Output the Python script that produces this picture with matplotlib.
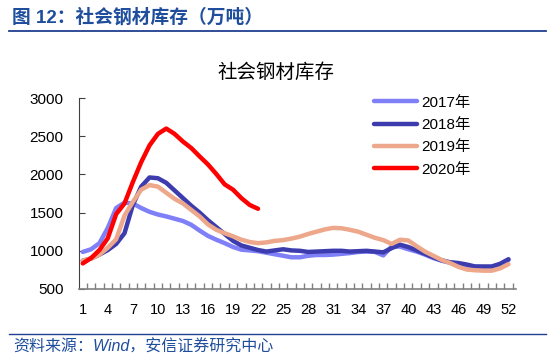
import matplotlib
matplotlib.use("Agg")
import matplotlib.pyplot as plt
from matplotlib.lines import Line2D

plt.rcParams['font.family'] = ['Liberation Sans', 'Noto Sans CJK SC', 'DejaVu Sans']

weeks = list(range(1, 53))
y2017 = [985, 1020, 1100, 1300, 1560, 1630, 1620, 1560, 1510, 1475, 1450, 1420, 1390, 1340, 1265, 1195,
         1145, 1100, 1050, 1015, 1005, 995, 975, 955, 935, 915, 915, 935, 945, 945, 950, 960, 970, 985,
         990, 985, 940, 1055, 1055, 1020, 990, 950, 905, 870, 845, 830, 810, 790, 785, 785, 820, 880]
y2018 = [870, 900, 950, 1010, 1090, 1230, 1600, 1840, 1960, 1950, 1890, 1790, 1690, 1590, 1500, 1400,
         1310, 1220, 1130, 1070, 1040, 1010, 990, 1005, 1020, 1005, 1000, 985, 990, 995, 1000, 1000, 990,
         995, 1000, 990, 980, 1035, 1080, 1050, 1005, 960, 915, 875, 850, 840, 820, 795, 795, 795, 830, 890]
y2019 = [870, 900, 950, 1040, 1150, 1460, 1640, 1800, 1860, 1840, 1760, 1680, 1620, 1535, 1450, 1345,
         1275, 1230, 1190, 1145, 1115, 1100, 1110, 1130, 1140, 1160, 1185, 1220, 1250, 1280, 1300, 1295,
         1275, 1250, 1210, 1170, 1140, 1090, 1145, 1135, 1060, 990, 935, 880, 840, 790, 755, 745, 740,
         740, 770, 825]
y2020 = [835, 905, 1010, 1165, 1480, 1620, 1900, 2160, 2380, 2530, 2600, 2530, 2430, 2345, 2235, 2130,
         2005, 1870, 1800, 1690, 1600, 1550]

series = [("2017年", y2017, "#7f7ff7"), ("2018年", y2018, "#3c3cae"),
          ("2019年", y2019, "#eda78a"), ("2020年", y2020, "#ff0000")]

xtick_vals = list(range(1, 53, 3))
ytick_vals = [500, 1000, 1500, 2000, 2500, 3000]

fig = plt.figure(figsize=(5.48, 3.62), dpi=100)
ax = fig.add_axes([79/548, 1-289/362, (516-79)/548, (289-98)/362])

handles = []
for name, vals, col in series:
    ln, = ax.plot(weeks[:len(vals)], vals, color=col, lw=3.2, solid_capstyle='round',
                  solid_joinstyle='round', label=name)
    handles.append(ln)

ax.set_xlim(0.55, 52.9)
ax.set_ylim(500, 3000)
ax.set_xticks(xtick_vals)
ax.set_xticks([w + 0.5 for w in weeks], minor=True)
ax.set_yticks(ytick_vals)
ax.tick_params(axis='x', which='major', length=0, pad=10, labelsize=10.5, colors='black')
ax.tick_params(axis='x', which='minor', length=4, direction='in', color='#808080', width=1)
ax.tick_params(axis='y', length=4, direction='in', pad=11, labelsize=11, color='#404040')
for s in ['top', 'right']:
    ax.spines[s].set_visible(False)
ax.spines['left'].set_color('#404040')
ax.spines['bottom'].set_color('#808080')
ax.spines['bottom'].set_linewidth(1.2)

leg = ax.legend(handles=handles, loc='upper left', bbox_to_anchor=((368-79)/437, 1.045),
                frameon=False, fontsize=11, handlelength=2.8, handletextpad=0.3,
                labelspacing=0.55, borderaxespad=0)

fig.text(276/548, 1-73/362, "社会钢材库存", ha='center', va='center', fontsize=14, color='black')

fig.text(12/548, 1-17/362, "图 12：社会钢材库存（万吨）", ha='left', va='center', fontsize=13.5,
         fontweight='bold', color='#1f4e9c')
fig.add_artist(Line2D([9/548, 546/548], [1-31/362, 1-31/362], color='#1f3f8f', lw=1.3,
                      transform=fig.transFigure))
fig.add_artist(Line2D([9/548, 546/548], [1-334/362, 1-334/362], color='#1f3f8f', lw=1.0,
                      transform=fig.transFigure))
fig.text(13/548, 1-347/362, "资料来源：Wind，安信证券研究中心", ha='left', va='center', fontsize=11.5,
         style='italic', color='#1f4e9c')

fig.savefig("out.png", dpi=100)
